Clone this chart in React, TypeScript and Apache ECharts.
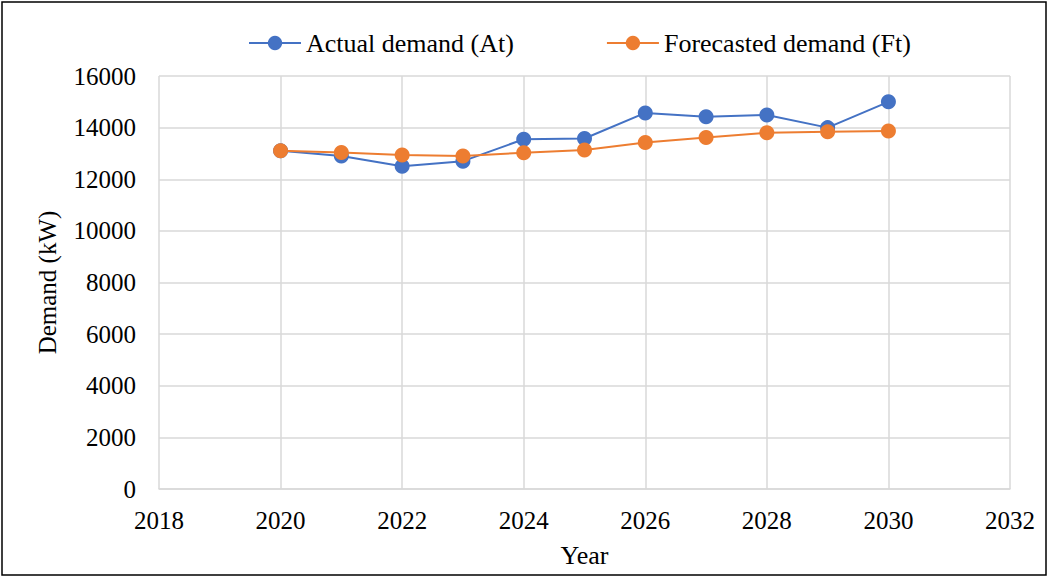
import React, { useEffect, useRef } from "react";
import * as echarts from "echarts";

// Years and demand values (kW)
const years = [2020, 2021, 2022, 2023, 2024, 2025, 2026, 2027, 2028, 2029, 2030];
const actualDemand = [13100, 12900, 12500, 12700, 13550, 13580, 14570, 14420, 14490, 14000, 15000];
const forecastDemand = [13100, 13040, 12940, 12900, 13030, 13130, 13420, 13620, 13800, 13840, 13870];

const seriesNames = ["Actual demand (At)", "Forecasted demand (Ft)"];
const xAxisTitle = "Year";
const yAxisTitle = "Demand (kW)";

const FONT = "'Liberation Serif', 'Times New Roman', serif";

export default function App() {
  const ref = useRef<HTMLDivElement>(null);

  useEffect(() => {
    if (!ref.current) return;
    const chart = echarts.init(ref.current, undefined, { renderer: "svg" });
    const toPairs = (vals: number[]) => years.map((y, i) => [y, vals[i]]);
    chart.setOption({
      animation: false,
      backgroundColor: "#ffffff",
      textStyle: { fontFamily: FONT, color: "#000" },
      graphic: [
        {
          type: "rect",
          shape: { x: 2, y: 2, width: 1044, height: 573 },
          style: { fill: "none", stroke: "#000", lineWidth: 1.5 },
          silent: true,
        },
      ],
      legend: {
        left: 248,
        top: 30,
        padding: 0,
        itemWidth: 52,
        itemHeight: 18,
        itemGap: 92,
        textStyle: { fontFamily: FONT, fontSize: 26, color: "#000", padding: [0, 0, 0, 0] },
        data: seriesNames,
      },
      grid: { left: 159, right: 39, top: 76, bottom: 89, containLabel: false },
      xAxis: {
        type: "value",
        min: 2018,
        max: 2032,
        interval: 2,
        name: xAxisTitle,
        nameLocation: "middle",
        nameGap: 53,
        nameTextStyle: { fontFamily: FONT, fontSize: 26, color: "#000" },
        axisLine: { show: true, lineStyle: { color: "#D9D9D9", width: 1.5 } },
        axisTick: { show: false },
        axisLabel: {
          fontFamily: FONT,
          fontSize: 25,
          color: "#000",
          margin: 19,
          formatter: (v: number) => String(v),
        },
        splitLine: { show: true, lineStyle: { color: "#D9D9D9", width: 1.5 } },
      },
      yAxis: {
        type: "value",
        min: 0,
        max: 16000,
        interval: 2000,
        name: yAxisTitle,
        nameLocation: "middle",
        nameGap: 99,
        nameTextStyle: { fontFamily: FONT, fontSize: 25, color: "#000" },
        axisLine: { show: false },
        axisTick: { show: false },
        axisLabel: {
          fontFamily: FONT,
          fontSize: 25,
          color: "#000",
          margin: 23,
          formatter: (v: number) => String(v),
        },
        splitLine: { show: true, lineStyle: { color: "#D9D9D9", width: 1.5 } },
      },
      series: [
        {
          name: seriesNames[0],
          type: "line",
          data: toPairs(actualDemand),
          symbol: "circle",
          symbolSize: 15,
          lineStyle: { color: "#4472C4", width: 2 },
          itemStyle: { color: "#4472C4" },
        },
        {
          name: seriesNames[1],
          type: "line",
          data: toPairs(forecastDemand),
          symbol: "circle",
          symbolSize: 15,
          lineStyle: { color: "#ED7D31", width: 2 },
          itemStyle: { color: "#ED7D31" },
        },
      ],
    });
    return () => chart.dispose();
  }, []);

  return (
    <div
      ref={ref}
      style={{ position: "absolute", left: 0, top: 0, width: 1049, height: 578 }}
    />
  );
}
